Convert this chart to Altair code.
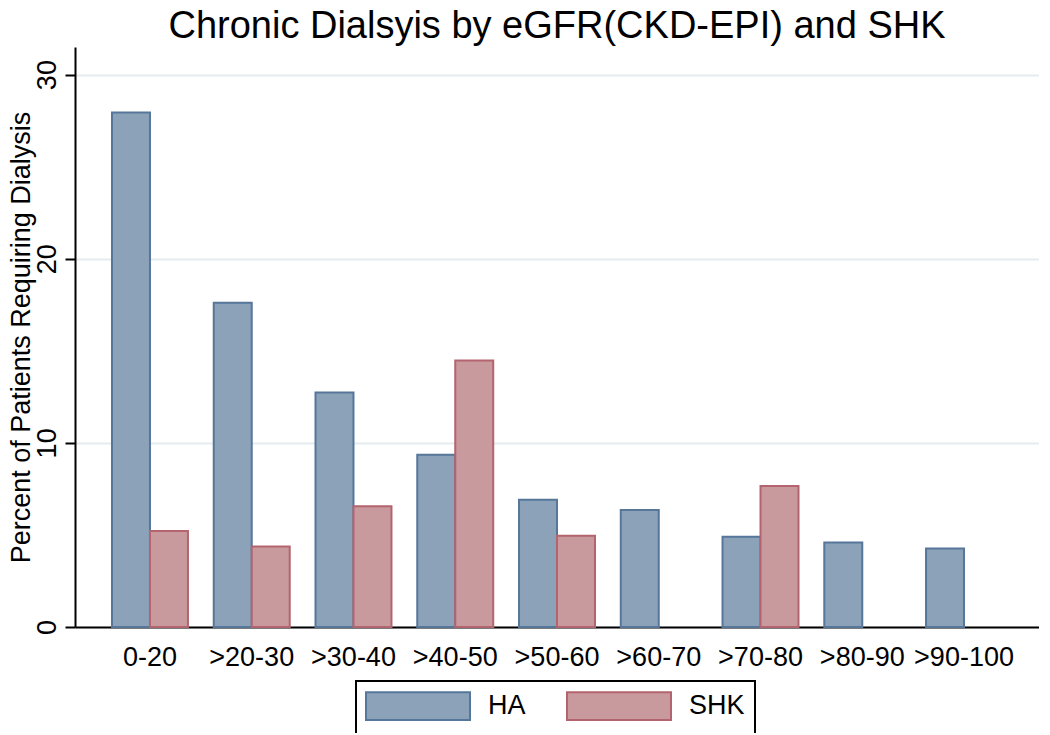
import altair as alt
import pandas as pd

categories = ["0-20", ">20-30", ">30-40", ">40-50", ">50-60", ">60-70", ">70-80", ">80-90", ">90-100"]
ha_values = [27.94, 17.61, 12.73, 9.36, 6.91, 6.35, 4.90, 4.59, 4.26]
shk_values = [5.22, 4.37, 6.56, 14.47, 4.96, None, 7.66, None, None]
series_names = ["HA", "SHK"]
fill_colors = ["#8ba2b8", "#c8999d"]
stroke_colors = ["#56779a", "#b4646e"]
y_ticks = [0, 10, 20, 30]

rows = []
for c, h, s in zip(categories, ha_values, shk_values):
    rows.append({"cat": c, "series": "HA", "value": h})
    if s is not None:
        rows.append({"cat": c, "series": "SHK", "value": s})
df = pd.DataFrame(rows)

FONT = "Liberation Sans, Arial, Helvetica, sans-serif"
rect_path = "M-3.755,-1H3.755V1H-3.755Z"

legend = alt.Legend(
    title=None,
    orient="none",
    legendX=281,
    legendY=634,
    direction="horizontal",
)

chart = alt.Chart(df).mark_bar(strokeWidth=2, opacity=1).encode(
    x=alt.X("cat:N", sort=categories, title=None,
            scale=alt.Scale(paddingInner=0.2534, paddingOuter=0.3635),
            axis=alt.Axis(labelAngle=0, labelFontSize=27, labelFont=FONT, labelColor="black",
                          ticks=False, tickSize=0, labelPadding=38, labelBaseline="alphabetic",
                          domainColor="black", domainWidth=2, grid=False)),
    xOffset=alt.XOffset("series:N", scale=alt.Scale(domain=series_names, paddingInner=0, paddingOuter=0)),
    y=alt.Y("value:Q", title="Percent of Patients Requiring Dialysis",
            scale=alt.Scale(domain=[0, 31.5], nice=False),
            axis=alt.Axis(values=y_ticks, labelAngle=270, labelAlign="center", labelBaseline="alphabetic",
                          labelPadding=10, tickSize=10, tickWidth=2, tickColor="black",
                          labelFontSize=27, labelFont=FONT, labelColor="black",
                          domainColor="black", domainWidth=2,
                          grid=True, gridColor="#e4ecef", gridWidth=2,
                          titleFontSize=27, titleFont=FONT, titleFontWeight="normal", titleColor="black",
                          titleAngle=270, titleBaseline="alphabetic", titleAlign="center",
                          titleX=-46, titleY=290)),
    color=alt.Color("series:N", scale=alt.Scale(domain=series_names, range=fill_colors), legend=legend),
    stroke=alt.Stroke("series:N", scale=alt.Scale(domain=series_names, range=stroke_colors), legend=legend),
).properties(
    width=964,
    height=580,
    autosize=alt.AutoSizeParams(type="none"),
    padding={"left": 67, "top": 39, "right": 0, "bottom": 106},
    title=alt.TitleParams("Chronic Dialsyis by eGFR(CKD-EPI) and SHK", fontSize=38, font=FONT,
                          fontWeight="normal", color="black", anchor="middle", frame="group",
                          offset=1),
).configure_view(
    strokeWidth=0
).configure_legend(
    strokeColor="black",
    strokeWidth=2,
    padding=10,
    fillColor="white",
    symbolType=rect_path,
    symbolSize=767,
    symbolStrokeWidth=2,
    symbolOffset=37,
    labelOffset=55,
    columnPadding=37,
    labelFontSize=27,
    labelFont=FONT,
    labelColor="black",
    symbolOpacity=1,
)

chart.save("out.html", embed_options={"renderer": "svg", "actions": False})
